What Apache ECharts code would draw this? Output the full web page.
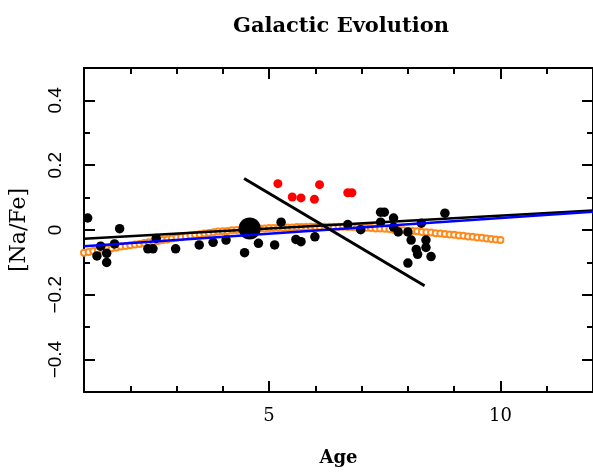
<!DOCTYPE html>
<html>
<head>
<meta charset="utf-8">
<script src="https://cdn.jsdelivr.net/npm/echarts@6/dist/echarts.min.js"></script>
<style>
  html, body { margin: 0; padding: 0; background: #fff; }
  #chart { width: 593px; height: 472px; }
</style>
</head>
<body>
<div id="chart"></div>
<script>
// Stellar [Na/Fe] versus age

// Field stars (age in Gyr, [Na/Fe])
const starAge = [1.08, 1.77, 1.28, 1.49, 1.49, 1.36, 1.66, 2.38, 2.49, 2.56, 2.98, 3.49, 3.79, 4.07, 4.47, 4.77, 5.12, 5.26,
  5.58, 5.69, 5.99, 6.70, 6.98, 7.41, 7.49, 7.41, 7.69, 7.69, 7.79, 8.00, 8.07, 8.29, 8.39, 8.39, 8.18, 8.21, 8.50, 8.00, 8.80];
const starNaFe = [0.037, 0.004, -0.080, -0.072, -0.100, -0.050, -0.043, -0.058, -0.058, -0.026, -0.058, -0.046, -0.038, -0.031, -0.070, -0.041, -0.046, 0.024,
  -0.029, -0.036, -0.021, 0.017, 0.001, 0.055, 0.055, 0.024, 0.037, 0.009, -0.006, -0.006, -0.031, 0.021, -0.031, -0.054, -0.060, -0.075, -0.082, -0.102, 0.052];

// The Sun
const sunAge = [4.58];
const sunNaFe = [0.005];

// Sodium-rich stars
const richAge = [5.19, 6.09, 5.50, 5.69, 5.98, 6.70, 6.79];
const richNaFe = [0.143, 0.140, 0.102, 0.099, 0.095, 0.115, 0.115];

// Chemical evolution model track
const modelAge = [1.0, 1.1, 1.2, 1.3, 1.4, 1.5, 1.6, 1.7, 1.8, 1.9,
  2.0, 2.1, 2.2, 2.3, 2.4, 2.5, 2.6, 2.7, 2.8, 2.9,
  3.0, 3.1, 3.2, 3.3, 3.4, 3.5, 3.6, 3.7, 3.8, 3.9,
  4.0, 4.1, 4.2, 4.3, 4.4, 4.5, 4.6, 4.7, 4.8, 4.9,
  5.0, 5.1, 5.2, 5.3, 5.4, 5.5, 5.6, 5.7, 5.8, 5.9,
  6.0, 6.1, 6.2, 6.3, 6.4, 6.5, 6.6, 6.7, 6.8, 6.9,
  7.0, 7.1, 7.2, 7.3, 7.4, 7.5, 7.6, 7.7, 7.8, 7.9,
  8.0, 8.1, 8.2, 8.3, 8.4, 8.5, 8.6, 8.7, 8.8, 8.9,
  9.0, 9.1, 9.2, 9.3, 9.4, 9.5, 9.6, 9.7, 9.8, 9.9, 10.0];
const modelNaFe = [-0.070, -0.068, -0.065, -0.063, -0.060, -0.058, -0.056, -0.054, -0.051, -0.049,
  -0.047, -0.045, -0.043, -0.040, -0.038, -0.036, -0.034, -0.031, -0.029, -0.026,
  -0.024, -0.022, -0.019, -0.017, -0.015, -0.013, -0.011, -0.009, -0.007, -0.005,
  -0.004, -0.003, -0.001, 0.000, 0.001, 0.002, 0.003, 0.004, 0.005, 0.005,
  0.006, 0.006, 0.007, 0.007, 0.008, 0.008, 0.009, 0.009, 0.009, 0.010,
  0.010, 0.010, 0.010, 0.010, 0.010, 0.010, 0.010, 0.009, 0.009, 0.008,
  0.008, 0.007, 0.006, 0.005, 0.005, 0.004, 0.003, 0.001, 0.000, -0.001,
  -0.002, -0.003, -0.004, -0.006, -0.007, -0.008, -0.010, -0.011, -0.012, -0.014,
  -0.015, -0.017, -0.018, -0.020, -0.021, -0.023, -0.024, -0.026, -0.028, -0.029, -0.031];

// Linear fits: [age, [Na/Fe]] end points
const fitAll = [[1, -0.027], [12, 0.060]];
const fitBlue = [[1, -0.050], [12, 0.056]];
const fitSteep = [[4.46, 0.159], [8.36, -0.172]];

// Axis ticks
const xMajorTicks = [5, 10];
const xMinorTicks = [2, 3, 4, 6, 7, 8, 9, 11];
const yMajorTicks = [-0.4, -0.2, 0, 0.2, 0.4];
const yMinorTicks = [-0.3, -0.1, 0.1, 0.3];

const pairs = (xs, ys) => xs.map((x, i) => [x, ys[i]]);

const serif = 'DejaVu Serif';
const sans = 'Liberation Sans';

function xAxisDef(position, ticks, len, withLabels, main) {
  return {
    type: 'value', position, min: 1, max: 12,
    axisLine: { show: main, onZero: false, lineStyle: { color: '#000', width: 2 } },
    axisTick: { show: true, inside: true, length: len, customValues: ticks, lineStyle: { color: '#000', width: 2 } },
    axisLabel: withLabels ? {
      show: true, customValues: ticks, margin: 15, color: '#000',
      fontFamily: serif, fontSize: 18, formatter: v => String(v)
    } : { show: false },
    splitLine: { show: false },
    name: withLabels ? 'Age' : '',
    nameLocation: 'middle', nameGap: 57,
    nameTextStyle: { fontFamily: serif, fontWeight: 'bold', fontSize: 18, color: '#000' }
  };
}

function yAxisDef(position, ticks, len, withLabels, main) {
  return {
    type: 'value', position, min: -0.5, max: 0.5,
    axisLine: { show: main, onZero: false, lineStyle: { color: '#000', width: 2 } },
    axisTick: { show: true, inside: true, length: len, customValues: ticks, lineStyle: { color: '#000', width: 2 } },
    axisLabel: withLabels ? {
      show: true, customValues: ticks, margin: 19, rotate: 90, color: '#000',
      fontFamily: sans, fontSize: 19,
      formatter: v => (Math.abs(v) < 1e-9 ? '0' : (v < 0 ? '\u2212' + Math.abs(v).toFixed(1) : v.toFixed(1)))
    } : { show: false },
    splitLine: { show: false },
    name: withLabels ? '[Na/Fe]' : '',
    nameLocation: 'middle', nameGap: 54, nameRotate: 90,
    nameTextStyle: { fontFamily: serif, fontSize: 22, color: '#000' }
  };
}

const chart = echarts.init(document.getElementById('chart'), null, { renderer: 'canvas' });
chart.setOption({
  animation: false,
  backgroundColor: '#fff',
  title: {
    text: 'Galactic Evolution', left: 336, top: 11, textAlign: 'center',
    textStyle: { fontFamily: serif, fontWeight: 'bold', fontSize: 21, color: '#000' }
  },
  grid: { left: 76, right: -5, top: 68, bottom: 75, containLabel: false },
  xAxis: [
    xAxisDef('bottom', xMajorTicks, 11, true, true),
    xAxisDef('bottom', xMinorTicks, 6, false, false),
    xAxisDef('top', xMajorTicks, 11, false, true),
    xAxisDef('top', xMinorTicks, 6, false, false)
  ],
  yAxis: [
    yAxisDef('left', yMajorTicks, 11, true, true),
    yAxisDef('left', yMinorTicks, 6, false, false),
    yAxisDef('right', yMajorTicks, 11, false, true),
    yAxisDef('right', yMinorTicks, 6, false, false)
  ],
  series: [
    {
      type: 'scatter', data: pairs(modelAge, modelNaFe), symbol: 'emptyCircle', symbolSize: 6,
      itemStyle: { color: '#ff8a1c', borderColor: '#ff8a1c', borderWidth: 1.6, opacity: 1 }, z: 2
    },
    {
      type: 'scatter', data: pairs(starAge, starNaFe), symbol: 'circle', symbolSize: 9.5,
      itemStyle: { color: '#000', opacity: 1 }, z: 3
    },
    {
      type: 'scatter', data: pairs(sunAge, sunNaFe), symbol: 'circle', symbolSize: 22,
      itemStyle: { color: '#000', opacity: 1 }, z: 3
    },
    {
      type: 'scatter', data: pairs(richAge, richNaFe), symbol: 'circle', symbolSize: 9,
      itemStyle: { color: '#ff0000', opacity: 1 }, z: 3
    },
    {
      type: 'line', data: fitAll, showSymbol: false, symbol: 'none',
      lineStyle: { color: '#000', width: 2.5 }, z: 4
    },
    {
      type: 'line', data: fitBlue, showSymbol: false, symbol: 'none',
      lineStyle: { color: '#0000ff', width: 2.5 }, z: 5
    },
    {
      type: 'line', data: fitSteep, showSymbol: false, symbol: 'none',
      lineStyle: { color: '#000', width: 3 }, z: 6
    }
  ]
});
</script>
</body>
</html>
